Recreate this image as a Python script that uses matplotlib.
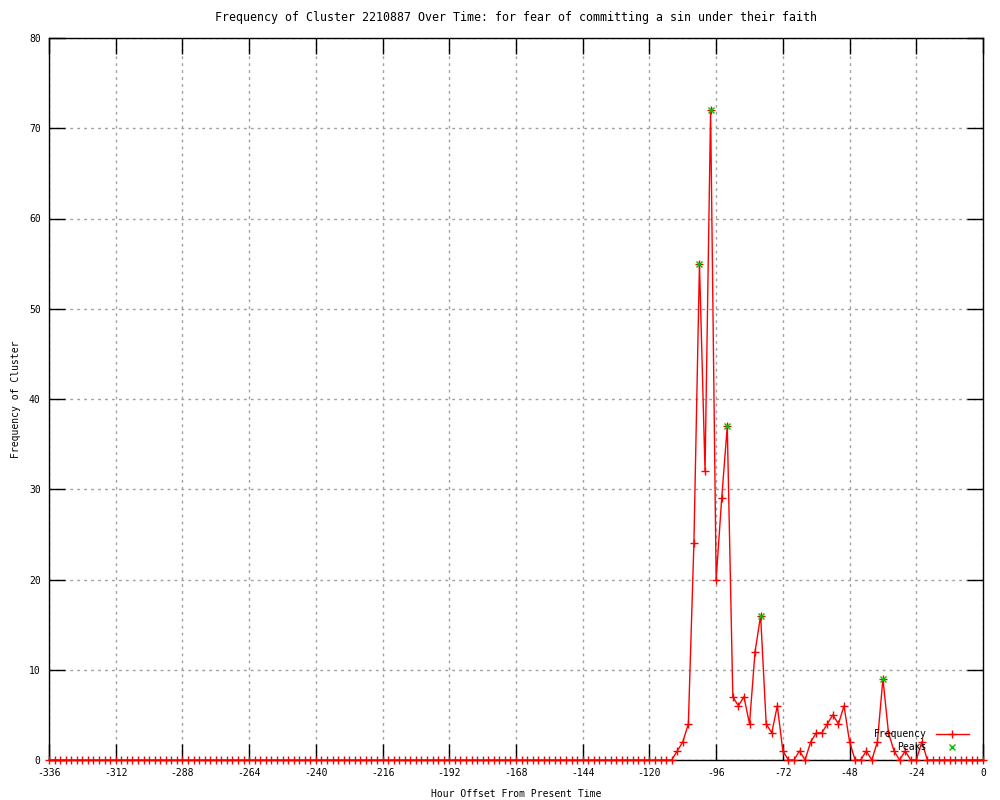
import numpy as np
import matplotlib
matplotlib.use("Agg")
import matplotlib.pyplot as plt

# hour offsets, one sample every 2 hours
hours = np.arange(-336, 1, 2)

# frequency per sample, 12 samples (24 h) per row
frequency = [
  0, 0, 0, 0, 0, 0, 0, 0, 0, 0, 0, 0,        # -336 .. -314
  0, 0, 0, 0, 0, 0, 0, 0, 0, 0, 0, 0,        # -312 .. -290
  0, 0, 0, 0, 0, 0, 0, 0, 0, 0, 0, 0,        # -288 .. -266
  0, 0, 0, 0, 0, 0, 0, 0, 0, 0, 0, 0,        # -264 .. -242
  0, 0, 0, 0, 0, 0, 0, 0, 0, 0, 0, 0,        # -240 .. -218
  0, 0, 0, 0, 0, 0, 0, 0, 0, 0, 0, 0,        # -216 .. -194
  0, 0, 0, 0, 0, 0, 0, 0, 0, 0, 0, 0,        # -192 .. -170
  0, 0, 0, 0, 0, 0, 0, 0, 0, 0, 0, 0,        # -168 .. -146
  0, 0, 0, 0, 0, 0, 0, 0, 0, 0, 0, 0,        # -144 .. -122
  0, 0, 0, 0, 0, 1, 2, 4, 24, 55, 32, 72,    # -120 .. -98
  20, 29, 37, 7, 6, 7, 4, 12, 16, 4, 3, 6,   # -96 .. -74
  1, 0, 0, 1, 0, 2, 3, 3, 4, 5, 4, 6,        # -72 .. -50
  2, 0, 0, 1, 0, 2, 9, 3, 1, 0, 1, 0,        # -48 .. -26
  0, 2, 0, 0, 0, 0, 0, 0, 0, 0, 0, 0,        # -24 .. -2
  0,                                         # 0
]

peak_hours = [-102, -98, -92, -80, -36]
peak_values = [55, 72, 37, 16, 9]

title = "Frequency of Cluster 2210887 Over Time: for fear of committing a sin under their faith"

plt.rcParams['font.family'] = ['DejaVu Sans Mono']
plt.rcParams['font.size'] = 7
plt.rcParams['axes.unicode_minus'] = False

fig = plt.figure(figsize=(10, 8), dpi=100)
ax = fig.add_axes([0.049, 0.05, 0.934, 0.9025])

ax.plot(hours, frequency, color='red', linewidth=1, marker='+', markersize=6,
        markeredgewidth=1, label='Frequency', clip_on=False, zorder=3)
ax.plot(peak_hours, peak_values, linestyle='none', color='#00c000', marker='x',
        markersize=5, markeredgewidth=1, label='Peaks', clip_on=False, zorder=4)

ax.set_xlim(-336, 0)
ax.set_ylim(0, 80)
ax.set_xticks(np.arange(-336, 1, 24))
ax.set_yticks(np.arange(0, 81, 10))

ax.grid(True, color='#a0a0a0', linestyle=(0, (2, 3)), linewidth=1)
ax.set_axisbelow(True)
ax.tick_params(direction='in', length=11.5, width=1, top=True, right=True, pad=6)
for spine in ax.spines.values():
  spine.set_linewidth(1)

ax.set_title(title, pad=12)
ax.set_xlabel('Hour Offset From Present Time', labelpad=8)
ax.set_ylabel('Frequency of Cluster', labelpad=6)

ax.legend(loc='lower right', bbox_to_anchor=(0.993, 0.0), frameon=False,
          markerfirst=False, handlelength=3.4, handletextpad=0.9,
          labelspacing=0.3, borderpad=0.3)

fig.savefig('out.png', dpi=100)
